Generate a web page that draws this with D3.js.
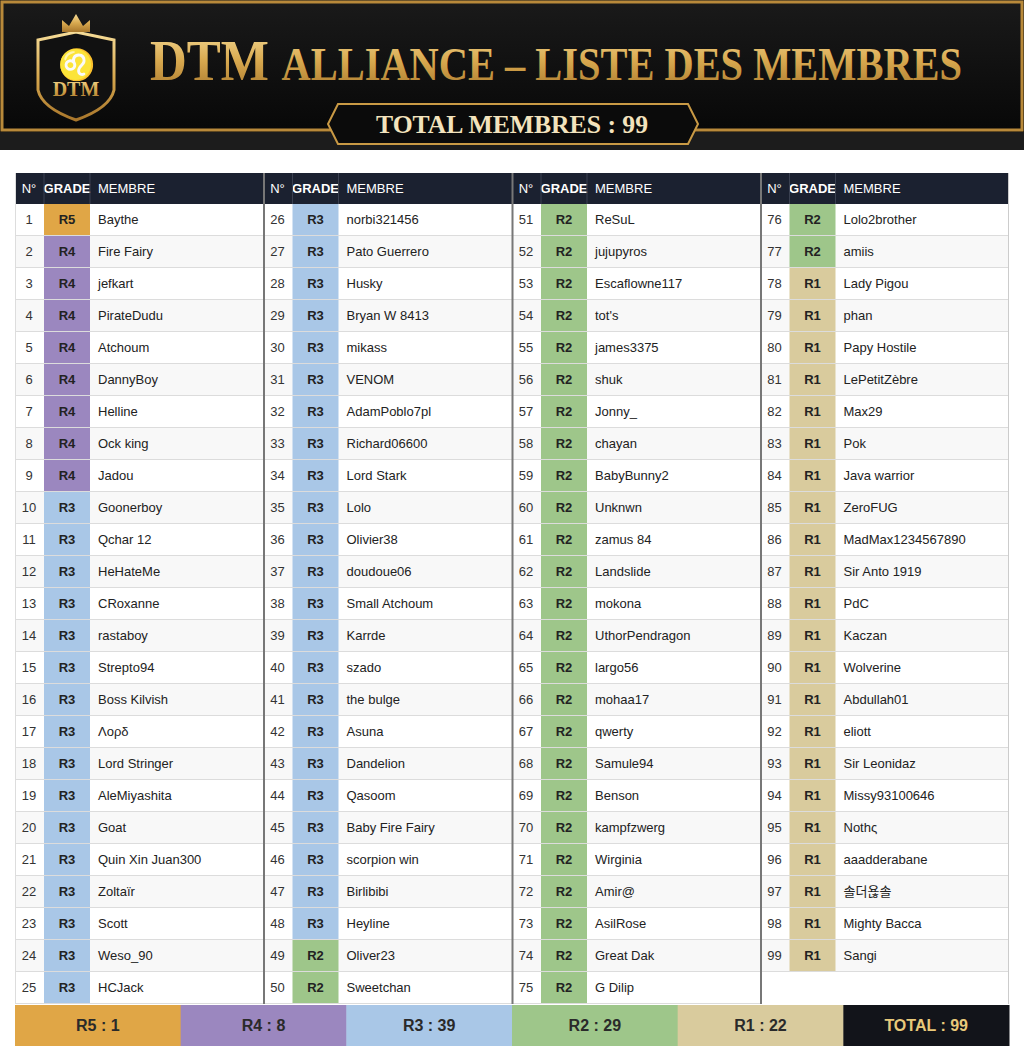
<!DOCTYPE html><html><head><meta charset="utf-8"><script src="https://cdn.jsdelivr.net/npm/d3@7"></script>
<style>body{margin:0;background:#fff}svg{display:block}</style></head><body><svg id="c" width="1024" height="1053"></svg>
<script>
const members=["Baythe","Fire Fairy","jefkart","PirateDudu","Atchoum","DannyBoy","Helline","Ock king","Jadou","Goonerboy","Qchar 12","HeHateMe","CRoxanne","rastaboy","Strepto94","Boss Kilvish","Λορδ","Lord Stringer","AleMiyashita","Goat","Quin Xin Juan300","Zoltaïr","Scott","Weso_90","HCJack",
"norbi321456","Pato Guerrero","Husky","Bryan W 8413","mikass","VENOM","AdamPoblo7pl","Richard06600","Lord Stark","Lolo","Olivier38","doudoue06","Small Atchoum","Karrde","szado","the bulge","Asuna","Dandelion","Qasoom","Baby Fire Fairy","scorpion win","Birlibibi","Heyline","Oliver23","Sweetchan",
"ReSuL","jujupyros","Escaflowne117","tot's","james3375","shuk","Jonny_","chayan","BabyBunny2","Unknwn","zamus 84","Landslide","mokona","UthorPendragon","largo56","mohaa17","qwerty","Samule94","Benson","kampfzwerg","Wirginia","Amir@","AsilRose","Great Dak","G Dilip",
"Lolo2brother","amiis","Lady Pigou","phan","Papy Hostile","LePetitZèbre","Max29","Pok","Java warrior","ZeroFUG","MadMax1234567890","Sir Anto 1919","PdC","Kaczan","Wolverine","Abdullah01","eliott","Sir Leonidaz","Missy93100646","Nothς","aaadderabane","솔더욚솔","Mighty Bacca","Sangi"];
const grades=[].concat(["R5"],Array(8).fill("R4"),Array(39).fill("R3"),Array(29).fill("R2"),Array(22).fill("R1"));
const gradeKeys=["R5","R4","R3","R2","R1"];
const gradeColors=["#e0a646","#9b87bf","#a9c7e7","#9ec68a","#d9cb9d"];
const headers=["N°","GRADE","MEMBRE"];
const color=d3.scaleOrdinal(gradeKeys,gradeColors);
const svg=d3.select("#c");
const defs=svg.append("defs");
const g1=defs.append("linearGradient").attr("id","gold").attr("x1",0).attr("y1",0).attr("x2",0).attr("y2",1);
g1.append("stop").attr("offset","0").attr("stop-color","#f6dc98");
g1.append("stop").attr("offset","0.5").attr("stop-color","#d8a94f");
g1.append("stop").attr("offset","1").attr("stop-color","#a9772c");
const bg=defs.append("linearGradient").attr("id","bg").attr("x1",0).attr("y1",0).attr("x2",0).attr("y2",1);
bg.append("stop").attr("offset","0").attr("stop-color","#1a1a1a");bg.append("stop").attr("offset","1").attr("stop-color","#050505");
svg.append("rect").attr("x",0).attr("y",0).attr("width",1024).attr("height",150).attr("fill","url(#bg)");
svg.append("rect").attr("x",2).attr("y",2).attr("width",1020).attr("height",128).attr("fill","none").attr("stroke","#b8893a").attr("stroke-width",3);
svg.append("rect").attr("x",0).attr("y",132).attr("width",1024).attr("height",18).attr("fill","#1c1c1c");
svg.append("path").attr("d","M38,40 L76,32 L114,40 L114,90 Q110,108 76,120 Q42,108 38,90 Z").attr("fill","#111").attr("stroke","url(#gold)").attr("stroke-width",3);
svg.append("path").attr("d","M62,32 L62,20 L69,26 L76,14 L83,26 L90,20 L90,32 Z").attr("fill","url(#gold)");
svg.append("text").attr("x",76).attr("y",75).attr("text-anchor","middle").attr("font-family","DejaVu Serif").attr("font-size",30).attr("fill","url(#gold)").text("♌");
svg.append("text").attr("x",76).attr("y",96).attr("text-anchor","middle").attr("font-family","Liberation Serif").attr("font-weight","bold").attr("font-size",20).attr("fill","url(#gold)").text("DTM");
const title=svg.append("text").attr("x",150).attr("y",80).attr("font-family","Liberation Serif").attr("font-weight","bold").attr("fill","url(#gold)").attr("textLength",812).attr("lengthAdjust","spacingAndGlyphs");
title.append("tspan").attr("font-size",58).text("DTM ");
title.append("tspan").attr("font-size",46).text("ALLIANCE – LISTE DES MEMBRES");
svg.append("path").attr("d","M338,104 L688,104 L698,124 L688,144 L338,144 L328,124 Z").attr("fill","#0b0b0b").attr("stroke","#c99a45").attr("stroke-width",2);
svg.append("text").attr("x",512).attr("y",133).attr("text-anchor","middle").attr("font-family","Liberation Serif").attr("font-weight","bold").attr("font-size",25).attr("fill","#f3e3bd").attr("textLength",272).attr("lengthAdjust","spacingAndGlyphs").text("TOTAL MEMBRES : 99");
const x0=15,blockW=248.5,rowH=32,tTop=173,headH=31,perCol=25;
const font="Liberation Sans, Arial, sans-serif";
const y=d3.scaleLinear().domain([0,perCol]).range([tTop+headH,tTop+headH+perCol*rowH]);
for(let b=0;b<4;b++){
  const bx=x0+b*blockW;
  const g=svg.append("g");
  g.append("rect").attr("x",bx).attr("y",tTop).attr("width",blockW).attr("height",headH).attr("fill","#1b2130");
  headers.forEach((h,i)=>g.append("text").attr("x",i==0?bx+14:i==1?bx+52:bx+83).attr("y",tTop+20).attr("text-anchor",i<2?"middle":"start").attr("font-family",font).attr("font-size",13).attr("font-weight",i==1?"bold":"normal").attr("fill","#fff").text(h));
  g.append("line").attr("x1",bx+29).attr("x2",bx+29).attr("y1",tTop).attr("y2",tTop+headH).attr("stroke","#3a4050");
  g.append("line").attr("x1",bx+75).attr("x2",bx+75).attr("y1",tTop).attr("y2",tTop+headH).attr("stroke","#3a4050");
  const idx=d3.range(b*perCol,Math.min((b+1)*perCol,members.length));
  const rows=g.selectAll("g.r").data(idx).join("g");
  rows.append("rect").attr("x",bx).attr("y",d=>y(d-b*perCol)).attr("width",blockW).attr("height",rowH).attr("fill",(d,i)=>i%2?"#f8f8f8":"#fff");
  rows.append("rect").attr("x",bx+29).attr("y",d=>y(d-b*perCol)).attr("width",46).attr("height",rowH).attr("fill",d=>color(grades[d]));
  rows.append("line").attr("x1",bx).attr("x2",bx+blockW).attr("y1",d=>y(d-b*perCol+1)-0.5).attr("y2",d=>y(d-b*perCol+1)-0.5).attr("stroke","#dcdcdc");
  rows.append("text").attr("x",bx+14).attr("y",d=>y(d-b*perCol)+20).attr("text-anchor","middle").attr("font-family",font).attr("font-size",13).attr("fill","#333").text(d=>d+1);
  rows.append("text").attr("x",bx+52).attr("y",d=>y(d-b*perCol)+20).attr("text-anchor","middle").attr("font-family",font).attr("font-size",13).attr("font-weight","bold").attr("fill","#222").text(d=>grades[d]);
  rows.append("text").attr("x",bx+83).attr("y",d=>y(d-b*perCol)+20).attr("font-family","Liberation Sans, Arial, Noto Sans CJK KR, sans-serif").attr("font-size",13).attr("fill","#222").text(d=>members[d]);
  g.append("line").attr("x1",bx+0.5).attr("x2",bx+0.5).attr("y1",tTop).attr("y2",y(perCol)).attr("stroke",b==0?"#ddd":"#777").attr("stroke-width",b==0?1:2);
}
svg.append("line").attr("x1",x0+4*blockW-0.5).attr("x2",x0+4*blockW-0.5).attr("y1",tTop).attr("y2",y(perCol)).attr("stroke","#ccc");
const counts=gradeKeys.map(k=>grades.filter(g=>g===k).length);
const fx=d3.scaleBand().domain(d3.range(6)).range([x0,x0+4*blockW]);
const fy=y(perCol)+1,fh=41;
const labels=gradeKeys.map((k,i)=>k+" : "+counts[i]).concat(["TOTAL : "+members.length]);
const fg=svg.selectAll("g.f").data(labels).join("g");
fg.append("rect").attr("x",(d,i)=>fx(i)).attr("y",fy).attr("width",fx.bandwidth()+0.5).attr("height",fh).attr("fill",(d,i)=>i<5?gradeColors[i]:"#12141a");
fg.append("text").attr("x",(d,i)=>fx(i)+fx.bandwidth()/2).attr("y",fy+26).attr("text-anchor","middle").attr("font-family",font).attr("font-size",16).attr("font-weight","bold").attr("fill",(d,i)=>i<5?"#2a2a2a":"#e8c97a").text(d=>d);
</script></body></html>
